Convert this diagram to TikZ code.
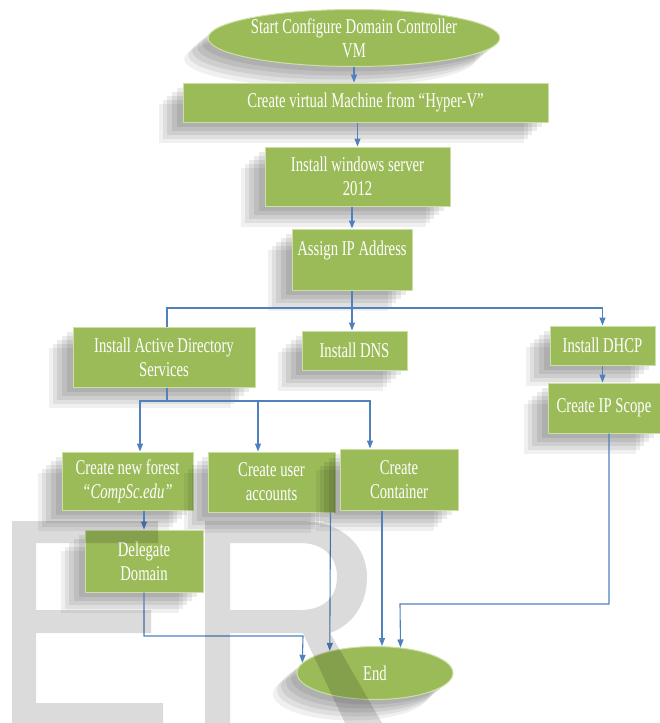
\documentclass[tikz,border=0pt]{standalone}
\usepackage{fontspec}
\usepackage{tikz}
\usetikzlibrary{arrows.meta,positioning,calc,shapes.geometric}
\newfontfamily\boxfont[FakeStretch=0.7]{Liberation Serif}
\definecolor{flowgreen}{RGB}{155,187,89}
\definecolor{flowedge}{RGB}{204,224,165}
\definecolor{flowblue}{RGB}{79,129,189}
\tikzset{
  softshadow/.style={
    preaction={fill=black, fill opacity=0.06, transform canvas={xshift=-24pt, yshift=-21pt}},
    preaction={fill=black, fill opacity=0.07, transform canvas={xshift=-20pt, yshift=-17pt}},
    preaction={fill=black, fill opacity=0.08, transform canvas={xshift=-16pt, yshift=-13pt}},
    preaction={fill=black, fill opacity=0.08, transform canvas={xshift=-11pt, yshift=-9pt}},
    preaction={fill=black, fill opacity=0.08, transform canvas={xshift=-6pt, yshift=-5pt}}},
  stepbox/.style={rectangle, draw=flowedge, line width=1pt, fill=flowgreen, text=white, inner sep=2pt, align=center,
    font=\boxfont\fontsize{21}{24}\selectfont, softshadow},
  termnode/.style={stepbox, ellipse, inner sep=0pt, inner ysep=-3pt},
  arr/.style={-{Triangle[length=8pt,width=6pt]}, flowblue, line width=1.1pt},
  ln/.style={flowblue, line width=1.1pt},
  wmark/.style={fill=black, fill opacity=0.14, even odd rule},
}

\begin{document}
\begin{tikzpicture}[x=1pt,y=1pt]
  \useasboundingbox (0,0) rectangle (660,-723);
  \node[termnode, minimum width=288pt, minimum height=57pt] (start) at (354,-38) {Start Configure Domain Controller\\VM};
  \node[stepbox, minimum width=365pt, minimum height=39pt] (vm) at (365.5,-102.5) {Create virtual Machine from “Hyper-V”};
  \node[stepbox, minimum width=185pt, minimum height=59pt] (winsrv) at (357.5,-176.5) {Install windows server\\2012};
  \node[stepbox, minimum width=120pt, minimum height=61pt, text depth=22pt] (ipaddr) at (352,-259.5) {Assign IP Address};
  \node[stepbox, minimum width=182pt, minimum height=60pt] (ads) at (164,-357) {Install Active Directory\\Services};
  \node[stepbox, minimum width=105pt, minimum height=39pt] (dns) at (354.5,-350.5) {Install DNS};
  \node[stepbox, minimum width=105pt, minimum height=39pt] (dhcp) at (602.5,-345.5) {Install DHCP};
  \node[stepbox, minimum width=112pt, minimum height=50pt] (scope) at (604,-408) {Create IP Scope};
  \node[stepbox, minimum width=131pt, minimum height=58pt] (forest) at (127.5,-481) {Create new forest\\\textit{“CompSc.edu”}};
  \node[stepbox, minimum width=127pt, minimum height=60pt] (users) at (271.5,-482) {Create user\\accounts};
  \node[stepbox, minimum width=118pt, minimum height=61pt] (container) at (399,-479.5) {Create\\Container};
  \node[stepbox, minimum width=118pt, minimum height=62pt] (delegate) at (144,-561) {Delegate\\Domain};
  \node[termnode, minimum width=156pt, minimum height=53pt] (stop) at (375,-673) {End};

  \coordinate (split1) at (352,-308);
  \coordinate (split2) at (167,-401);
  \coordinate (join1) at (303,-636);
  \coordinate (join2) at (400,-604);

  \draw[arr] (start.south) -- (start.south |- vm.north);
  \draw[arr] (winsrv.north |- vm.south) -- (winsrv.north);
  \draw[arr] (ipaddr.north |- winsrv.south) -- (ipaddr.north);
  \draw[ln] (ipaddr.south) -- (split1);
  \draw[arr] (split1) -- (split1 |- dns.north);
  \draw[ln] (split1) -| ([xshift=3pt]ads.north);
  \draw[arr] (split1) -| (dhcp.north);
  \draw[arr] (dhcp.south) -- (dhcp.south |- scope.north);
  \draw[ln] ([xshift=3pt]ads.south) -- (split2);
  \draw[arr] (split2) -| ([xshift=12.5pt]forest.north);
  \draw[arr] (split2) -| ([xshift=-13.5pt]users.north);
  \draw[arr] (split2) -| ([xshift=-29pt]container.north);
  \draw[arr] (delegate.north |- forest.south) -- (delegate.north);
  \draw[arr] (delegate.south) |- (join1) -- (stop.172);
  \draw[arr] ([xshift=59pt]users.south) -- (stop.154);
  \draw[arr] ([xshift=-17pt]container.south) -- ([xshift=7pt]stop.north);
  \draw[arr] ([xshift=5pt]scope.south) |- (join2) -- (stop.45);

  \fill[wmark] (12,-521) -- (158,-521) -- (158,-543) -- (36,-543) -- (36,-610) -- (151,-610) -- (151,-633)
    -- (36,-633) -- (36,-703) -- (163,-703) -- (163,-723) -- (12,-723) -- cycle;
  \fill[wmark] (205,-521) -- (300,-521) .. controls (345,-521) and (367,-548) .. (367,-577)
    .. controls (367,-605) and (352,-625) .. (330,-633) -- (382,-723) -- (345,-723) -- (303,-633)
    -- (230,-633) -- (230,-723) -- (205,-723) -- cycle
    (230,-543) -- (300,-543) .. controls (325,-543) and (337,-558) .. (337,-577)
    .. controls (337,-596) and (325,-610) .. (300,-610) -- (230,-610) -- cycle;
\end{tikzpicture}
\end{document}
